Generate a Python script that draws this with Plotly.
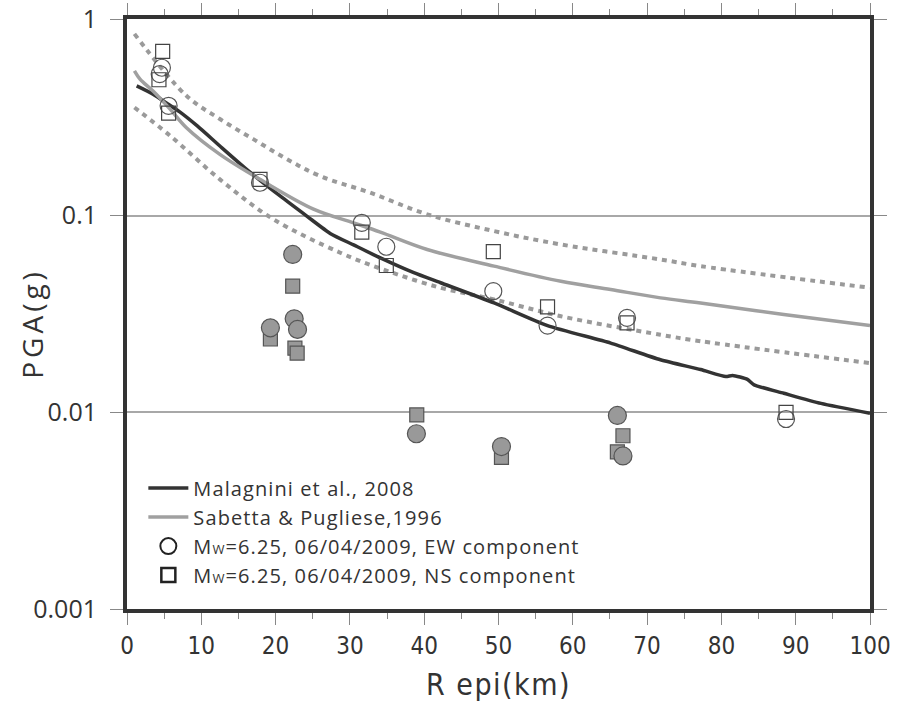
import plotly.graph_objects as go

# Ground-motion prediction curves: PGA (g) vs epicentral distance (km)
malagnini_r = [1.3, 3.5, 5.5, 7.1, 9.5, 12.5, 16.1, 20.6, 24.2, 27.4, 30.5, 34.1, 38.6,
               42.2, 49.4, 56.6, 65.1, 71.8, 77.2, 80.6, 81.5, 83.5, 84.4, 88.4, 93.4, 100]
malagnini_pga = [0.457, 0.415, 0.37, 0.337, 0.285, 0.226, 0.172, 0.126, 0.0995, 0.081,
                 0.071, 0.061, 0.0513, 0.0456, 0.036, 0.0276, 0.0225, 0.0185, 0.0165,
                 0.0152, 0.0154, 0.0147, 0.0138, 0.0125, 0.0111, 0.0099]

sp_r = [1.0, 1.75, 3.5, 5.8, 8.0, 12.5, 17.9, 25.1, 30.5, 34.1, 40.4, 49.4, 58.4, 65.1,
        71.8, 77.2, 88.4, 100]
sp_pga = [0.545, 0.495, 0.43, 0.348, 0.28, 0.205, 0.153, 0.108, 0.092, 0.0825, 0.0673,
          0.0554, 0.0464, 0.0421, 0.0382, 0.036, 0.0314, 0.0276]

sp_upper_r = [1.0, 8.0, 12.5, 17.0, 21.5, 26.0, 32.7, 40.4, 49.4, 58.4, 71.8, 77.2, 100]
sp_upper_pga = [0.84, 0.407, 0.31, 0.245, 0.194, 0.159, 0.131, 0.1016, 0.0835, 0.0714,
                0.0599, 0.0554, 0.043]

sp_lower_r = [1.0, 5.8, 12.5, 19.5, 28.7, 34.5, 42.2, 49.4, 58.4, 71.8, 77.2, 100]
sp_lower_pga = [0.355, 0.255, 0.153, 0.097, 0.0648, 0.0532, 0.043, 0.0375, 0.0308,
                0.0248, 0.023, 0.0178]

# Recorded PGA, 06/04/2009 Mw 6.25 event
ew_open_r = [4.7, 4.4, 5.6, 17.9, 31.6, 34.9, 49.3, 56.6, 67.3, 88.7]
ew_open_pga = [0.565, 0.525, 0.362, 0.147, 0.092, 0.0695, 0.0413, 0.0276, 0.0302, 0.00925]
ns_open_r = [4.8, 4.3, 5.6, 17.9, 31.6, 34.9, 49.3, 56.6, 67.3, 88.7]
ns_open_pga = [0.684, 0.491, 0.332, 0.153, 0.0825, 0.0558, 0.0656, 0.0344, 0.0285, 0.0100]

ew_fill_r = [22.3, 19.3, 22.5, 22.95, 38.95, 50.4, 66.0, 66.75]
ew_fill_pga = [0.0635, 0.0269, 0.0299, 0.0264, 0.00778, 0.0067, 0.00964, 0.0060]
ns_fill_r = [22.3, 19.3, 22.6, 22.9, 39.0, 50.4, 66.75, 66.0]
ns_fill_pga = [0.0438, 0.0236, 0.0212, 0.0200, 0.0097, 0.0059, 0.0076, 0.0063]

x_ticks = list(range(0, 101, 10))
y_ticks = [0.001, 0.01, 0.1, 1]
y_tick_text = ["0.001", "0.01", "0.1", "1"]

DARK = "#333333"
GREY = "#a0a0a0"
DOT = "#9a9a9a"


def spaced(text, px):
    return f"<span style='letter-spacing:{px}px'>{text}</span>"


fig = go.Figure()

fig.add_trace(go.Scatter(x=sp_upper_r, y=sp_upper_pga, mode="lines", showlegend=False,
                         line=dict(color=DOT, width=4, dash="5px,5px", shape="spline")))
fig.add_trace(go.Scatter(x=sp_lower_r, y=sp_lower_pga, mode="lines", showlegend=False,
                         line=dict(color=DOT, width=4, dash="5px,5px", shape="spline")))
fig.add_trace(go.Scatter(x=malagnini_r, y=malagnini_pga, mode="lines",
                         name=spaced("Malagnini et al., 2008", 1.1),
                         line=dict(color=DARK, width=3.5, shape="spline", smoothing=0.6)))
fig.add_trace(go.Scatter(x=sp_r, y=sp_pga, mode="lines",
                         name=spaced("Sabetta & Pugliese,1996", 1.1),
                         line=dict(color=GREY, width=3.5, shape="spline")))

fig.add_trace(go.Scatter(x=ns_fill_r, y=ns_fill_pga, mode="markers", showlegend=False,
                         marker=dict(symbol="square", size=14, color="#999999",
                                     line=dict(color="#555555", width=1.2))))
fig.add_trace(go.Scatter(x=ew_fill_r, y=ew_fill_pga, mode="markers", showlegend=False,
                         marker=dict(symbol="circle", size=18, color="#999999",
                                     line=dict(color="#555555", width=1.2))))

fig.add_trace(go.Scatter(x=ew_open_r, y=ew_open_pga, mode="markers", showlegend=False,
                         legendgroup="ew",
                         marker=dict(symbol="circle-open", size=17, color="#555555",
                                     line=dict(width=1.2))))
fig.add_trace(go.Scatter(x=ns_open_r, y=ns_open_pga, mode="markers", showlegend=False,
                         legendgroup="ns",
                         marker=dict(symbol="square-open", size=14, color="#444444",
                                     line=dict(width=1.2))))

# legend keys for the recorded components (bolder outlines than the plotted markers)
mw = "M<span style='font-size:13px'>W</span>"
fig.add_trace(go.Scatter(x=[None], y=[None], mode="markers", legendgroup="ew",
                         name=spaced(f"{mw}=6.25, 06/04/2009, EW component", 1.1),
                         marker=dict(symbol="circle-open", size=16, color="#222222",
                                     line=dict(width=2))))
fig.add_trace(go.Scatter(x=[None], y=[None], mode="markers", legendgroup="ns",
                         name=spaced(f"{mw}=6.25, 06/04/2009, NS component", 1.1),
                         marker=dict(symbol="square-open", size=14, color="#222222",
                                     line=dict(width=2.5))))

fig.update_layout(
    width=908, height=714,
    margin=dict(l=127, r=38, t=19, b=105, autoexpand=False),
    paper_bgcolor="white", plot_bgcolor="white",
    font=dict(family="Open Sans, DejaVu Sans", color=DARK),
    legend=dict(x=0.022, y=0.238, xanchor="left", yanchor="top",
                bgcolor="rgba(0,0,0,0)", font=dict(size=20, color=DARK),
                tracegroupgap=0, itemwidth=40, traceorder="normal"),
    annotations=[dict(text=spaced("PGA(g)", 4), xref="paper", yref="paper",
                      x=-0.128, y=0.485, xanchor="center", yanchor="middle",
                      textangle=-90, showarrow=False,
                      font=dict(family="Open Sans, DejaVu Sans", size=28, color=DARK))],
)

fig.update_xaxes(
    range=[0, 100], tickvals=x_ticks, automargin=False,
    showline=True, linewidth=4, linecolor=DARK, mirror="ticks",
    ticks="outside", ticklen=12, tickwidth=1, tickcolor="#888888",
    minor=dict(dtick=5, ticks="outside", ticklen=6, tickcolor="#888888", tickwidth=1),
    showgrid=False, zeroline=False,
    tickfont=dict(family="Liberation Sans Narrow, DejaVu Sans Condensed, Open Sans", size=24, color=DARK),
    title=dict(text=spaced("R epi(km)", 1.5), standoff=16,
               font=dict(family="Liberation Sans Narrow, DejaVu Sans Condensed, Open Sans", size=30, color=DARK)),
)

fig.update_yaxes(
    type="log", range=[-3, 0], tickvals=y_ticks, ticktext=y_tick_text, automargin=False,
    showline=True, linewidth=4, linecolor=DARK, mirror="ticks",
    ticks="outside", ticklen=13, tickwidth=1, tickcolor="#888888",
    ticklabelstandoff=8,
    showgrid=True, gridcolor="#a8a8a8", gridwidth=1.5,
    tickfont=dict(family="Open Sans, DejaVu Sans", size=25, color=DARK),
)

fig.write_html("out.html")
